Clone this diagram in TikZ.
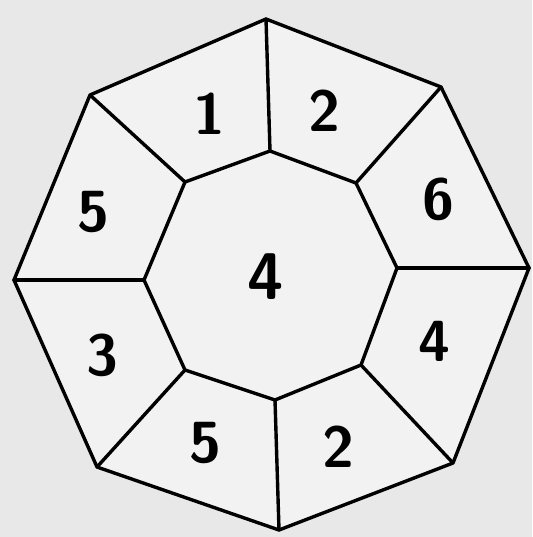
\documentclass[tikz,border=0pt]{standalone}
\usepackage{tikz}

\tikzset{
    edge/.style={black, line width=3.4pt, line join=round, line cap=round},
    digit/.style={font=\fontsize{58}{58}\selectfont\sffamily\bfseries}
}

\begin{document}
\begin{tikzpicture}[x=1pt, y=-1pt]

    % 1. Paper background
    \fill[gray!18] (0,0) rectangle (532,537);
    \useasboundingbox (0,0) rectangle (532,537);

    % 2. Outer and inner octagon corners
    \coordinate (o1) at (266,19);
    \coordinate (o2) at (441,87);
    \coordinate (o3) at (529,268);
    \coordinate (o4) at (453,463);
    \coordinate (o5) at (279,530);
    \coordinate (o6) at (97,467);
    \coordinate (o7) at (14,280);
    \coordinate (o8) at (90,95);

    \coordinate (i1) at (270,151);
    \coordinate (i2) at (356,183);
    \coordinate (i3) at (397,268);
    \coordinate (i4) at (361,365);
    \coordinate (i5) at (275,400);
    \coordinate (i6) at (185,370);
    \coordinate (i7) at (144,280);
    \coordinate (i8) at (185,182);

    % 3. Fill and outlines
    \fill[gray!10] (o1) -- (o2) -- (o3) -- (o4) -- (o5) -- (o6) -- (o7) -- (o8) -- cycle;
    \draw[edge] (o1) -- (o2) -- (o3) -- (o4) -- (o5) -- (o6) -- (o7) -- (o8) -- cycle;
    \draw[edge] (i1) -- (i2) -- (i3) -- (i4) -- (i5) -- (i6) -- (i7) -- (i8) -- cycle;

    % 4. Spokes between the two octagons
    \foreach \k in {1,...,8} {
        \draw[edge] (i\k) -- (o\k);
    }

    % 5. Numbers
    \node[digit] (n1) at (209,114) {1};
    \node[digit] (n2) at (324,111) {2};
    \node[digit] (n3) at (438,199) {6};
    \node[digit] (n4) at (434,341) {4};
    \node[digit] (n5) at (338,447) {2};
    \node[digit] (n6) at (205,443) {5};
    \node[digit] (n7) at (102,355) {3};
    \node[digit] (n8) at (93,212) {5};
    \node[digit, font=\fontsize{66}{66}\selectfont\sffamily\bfseries] (c) at (266,277) {4};

\end{tikzpicture}
\end{document}
